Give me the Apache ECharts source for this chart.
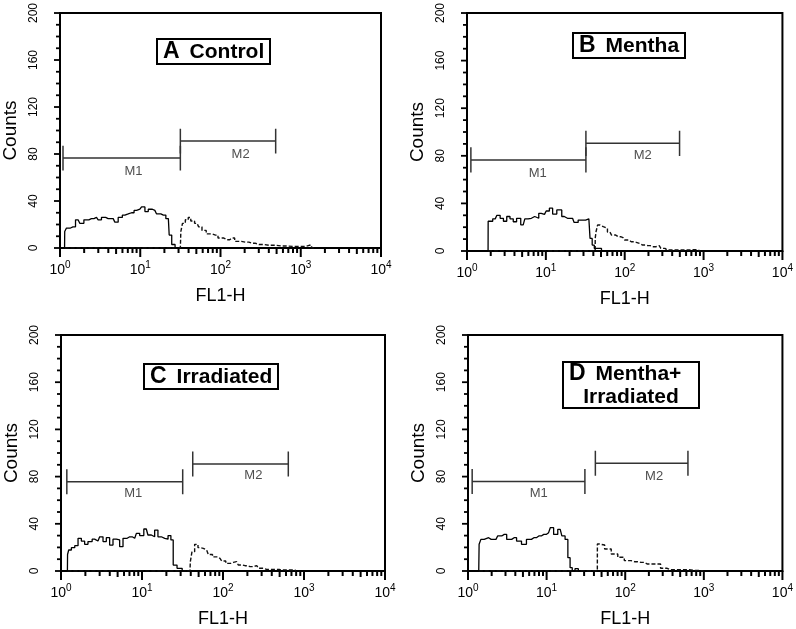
<!DOCTYPE html>
<html><head><meta charset="utf-8">
<script src="https://cdn.jsdelivr.net/npm/echarts@6/dist/echarts.min.js"></script>
<style>html,body{margin:0;padding:0;background:#fff}#c{width:796px;height:629px}</style>
</head><body><div id="c"></div>
<script>
// ---- data (FL1-H value, counts) ----
const panelNames = ['A', 'B', 'C', 'D'];
const panelTitles = ['Control', 'Mentha', 'Irradiated', 'Mentha+\nIrradiated'];
const majorTicks = [1, 10, 100, 1000, 10000];
const yTicks = [0, 40, 80, 120, 160, 200];

const A_M1 = [[1.14, 0], [1.15, 14], [1.26, 17], [1.45, 18], [1.68, 24], [1.85, 21], [2.13, 24], [2.46, 25], [2.85, 26], [3.13, 24], [3.45, 26], [3.98, 25], [4.6, 25], [5.06, 22], [5.57, 26], [6.43, 28], [7.08, 29], [7.79, 30], [9.0, 32], [9.9, 33], [10.9, 35], [12.0, 31], [13.2, 33], [15.2, 32], [16.8, 29], [19.4, 28], [22.4, 25], [23.5, 11], [25.9, 3], [28.5, 0]];
const A_M2 = [[1.14, 0], [31.6, 0], [32.5, 14], [34.7, 21], [38.3, 24], [41, 26], [44.3, 23], [51, 21], [56, 18], [61.7, 15], [71.4, 12], [86.6, 11], [100, 8.5], [121, 7], [140, 8.5], [161, 5.6], [205, 5], [249, 4], [301, 3], [402, 2.3], [590, 1.7], [787, 1.4], [1047, 1.4], [1270, 2.3], [1468, 0]];
const B_M1 = [[1.85, 0], [1.86, 25], [1.97, 25], [2.28, 27], [2.51, 30], [2.76, 27.5], [3.04, 25], [3.35, 29], [3.68, 27], [4.05, 24.6], [4.47, 27.5], [5.16, 22], [5.67, 27], [6.24, 27.5], [6.88, 29], [7.57, 27.5], [8.73, 31.7], [9.61, 30.8], [10.6, 33.6], [11.6, 36], [12.8, 31], [14.8, 34.5], [17.1, 29], [18.8, 27.5], [21.8, 27.5], [23.9, 24], [27.6, 26], [31.9, 26], [35.1, 27], [37.6, 10.6], [39.8, 5], [42.5, 2.2], [46, 2.2], [56, 0]];
const B_M2 = [[1.85, 0], [42.2, 0], [42.3, 10.6], [44.2, 16], [46.4, 21.8], [51, 20.4], [56.2, 19], [64.9, 16], [71.4, 13.4], [82.5, 12], [95.2, 11.2], [105, 9.2], [121, 7.8], [140, 7.3], [154, 6.4], [169, 5], [196, 4.5], [226, 3.6], [274, 4.5], [301, 2.2], [348, 0.8], [464, 0.8], [824, 1.2], [907, 0]];
const C_M1 = [[1.2, 0], [1.21, 14], [1.28, 17.8], [1.41, 19.8], [1.55, 21.5], [1.70, 27.7], [1.87, 25.4], [2.05, 22.6], [2.26, 24.9], [2.60, 27], [2.86, 25.4], [3.15, 29], [3.46, 24.9], [3.80, 28.2], [4.18, 22], [4.60, 27], [5.05, 26.3], [5.56, 20.6], [6.11, 27.7], [7.05, 29], [8.13, 27.7], [8.93, 31.9], [9.81, 30], [11.3, 35.6], [12.4, 30.5], [13.7, 29], [15.0, 34.7], [16.5, 29], [18.2, 27.7], [20.0, 27], [22.0, 30], [23.5, 26.3], [25.1, 5], [29.2, 2.3], [33.6, 0]];
const C_M2 = [[1.2, 0], [39.1, 0], [39.9, 7.9], [43, 16.4], [46.4, 22.6], [52, 19.8], [57.1, 19.2], [62.8, 17.8], [69.1, 14], [79.7, 12], [91.8, 10.7], [101, 8.5], [116, 6.5], [134, 7.3], [147, 7.9], [162, 5.1], [187, 4.5], [215, 3.7], [261, 4.5], [286, 2.3], [346, 1.4], [460, 1.4], [531, 0.8], [776, 0.8], [800, 0]];
const D_M1 = [[1.37, 0], [1.40, 22.6], [1.52, 26.8], [1.70, 28.2], [1.97, 26.8], [2.27, 26.8], [2.50, 29.7], [2.89, 31], [3.34, 26.8], [3.86, 28.2], [4.46, 25.4], [5.15, 22.6], [5.96, 26.8], [6.89, 28.2], [7.96, 29.7], [9.2, 31], [10.6, 32.5], [11.7, 36.7], [12.9, 31], [14.9, 35.3], [16.4, 29.7], [18.0, 26.8], [19.3, 11.3], [20.5, 2.8], [21.9, 0], [24.1, 2], [26.6, 0]];
const D_M2 = [[1.37, 0], [44.2, 0], [44.3, 22.9], [49.7, 22], [60.3, 18.6], [73.1, 14.4], [88.5, 11.6], [107, 8.8], [131, 7.9], [158, 7.3], [192, 5.9], [256, 5.9], [310, 2.3], [376, 1.1], [553, 1.1], [740, 0.5], [988, 0]];

// marker gates: [start, end, level]
const gateM1 = [[1.09, 31.6, 76.5], [1.12, 32.2, 76.5], [1.18, 31.8, 75.7], [1.13, 30.7, 75.8]];
const gateM2 = [[31.6, 487, 91], [32.2, 496, 90.5], [42.3, 640, 90.7], [41.7, 628, 91.3]];
const labelM1 = [[8.25, 65], [7.87, 65.3], [7.8, 65.8], [7.95, 65.6]];
const labelM2 = [[178, 80], [169, 80.7], [237, 81.4], [233, 80.5]];

const histM1 = [A_M1, B_M1, C_M1, D_M1];
const histM2 = [A_M2, B_M2, C_M2, D_M2];

// ---- layout ----
const grids = [
  { left: 60, top: 12, width: 321, height: 236 },
  { left: 467, top: 13, width: 320, height: 238 },
  { left: 61, top: 335, width: 324, height: 236 },
  { left: 468, top: 335, width: 319, height: 237 }
];
const titlePos = [[157, 38], [573, 32], [144, 363], [563, 361]];

// x tick positions on the log scale: [value, 0, tick length]
const xTickMarks = [];
majorTicks.forEach(v => xTickMarks.push([v, 0, 9]));
for (let k = 0; k < 4; k++) for (let m = 2; m <= 9; m++) xTickMarks.push([m * Math.pow(10, k), 0, m === 5 ? 6 : 5]);
// y tick positions: [1, value, tick length]
const yTickMarks = [];
for (let v = 0; v <= 200; v += 10) yTickMarks.push([1, v, v % 40 === 0 ? 6 : 4]);

const font = '"Liberation Sans", Arial, sans-serif';

const option = {
  animation: false,
  backgroundColor: '#fff',
  textStyle: { fontFamily: font },
  grid: [], xAxis: [], yAxis: [], series: [], title: []
};

grids.forEach((g, i) => {
  option.grid.push(Object.assign({ show: true, borderColor: '#000', borderWidth: 2, backgroundColor: 'transparent' }, g));
  option.xAxis.push({
    type: 'log', logBase: 10, min: 1, max: 10000, gridIndex: i, position: 'bottom',
    axisLine: { onZero: false, lineStyle: { color: '#000', width: 2 } },
    axisTick: { show: false },
    axisLabel: {
      margin: 12, color: '#000',
      formatter: v => '{b|10}{s|' + Math.round(Math.log10(v)) + '}',
      rich: { b: { fontSize: 14, fontFamily: font, color: '#000' }, s: { fontSize: 10, fontFamily: font, color: '#000', padding: [0, 0, 10, 0] } }
    },
    splitLine: { show: false },
    name: 'FL1-H', nameLocation: 'middle', nameGap: 39,
    nameTextStyle: { fontSize: 18, color: '#000', fontFamily: font }
  });
  option.yAxis.push({
    type: 'value', min: 0, max: 200, interval: 40, gridIndex: i,
    axisLine: { show: true, lineStyle: { color: '#000', width: 2 } },
    axisTick: { show: false },
    splitLine: { show: false }, minorSplitLine: { show: false },
    axisLabel: { rotate: 90, fontSize: 12, color: '#000', margin: 20, fontFamily: '"Liberation Sans Narrow", "Liberation Sans", sans-serif' },
    name: 'Counts', nameLocation: 'middle', nameGap: 40, nameRotate: 90,
    nameTextStyle: { fontSize: 19, color: '#000', fontFamily: font }
  });
  // x ticks drawn through the log scale
  option.series.push({
    type: 'custom', xAxisIndex: i, yAxisIndex: i, clip: false, silent: true, z: 10,
    data: xTickMarks,
    renderItem: (params, api) => {
      const p = api.coord([api.value(0), api.value(1)]);
      return { type: 'rect', shape: { x: p[0] - 1, y: p[1], width: 2, height: api.value(2) }, style: { fill: '#000' } };
    }
  });
  // y ticks drawn through the value scale
  option.series.push({
    type: 'custom', xAxisIndex: i, yAxisIndex: i, clip: false, silent: true, z: 10,
    data: yTickMarks,
    renderItem: (params, api) => {
      const p = api.coord([api.value(0), api.value(1)]);
      const len = api.value(2);
      return { type: 'rect', shape: { x: p[0] - len, y: p[1] - 0.9, width: len, height: 1.8 }, style: { fill: '#000' } };
    }
  });
  option.series.push({
    type: 'line', xAxisIndex: i, yAxisIndex: i, data: histM1[i], step: 'middle',
    symbol: 'none', lineStyle: { color: '#000', width: 1.3 }, z: 3
  });
  option.series.push({
    type: 'line', xAxisIndex: i, yAxisIndex: i, data: histM2[i], step: 'middle',
    symbol: 'none', lineStyle: { color: '#111', width: 1.4, type: [4, 2] }, z: 2
  });
  [gateM1[i], gateM2[i]].forEach(gt => {
    const [a, b, lv] = gt, h = 10.6;
    option.series.push({
      type: 'line', xAxisIndex: i, yAxisIndex: i, symbol: 'none',
      data: [[a, lv + h], [a, lv - h], [a, lv], [b, lv], [b, lv + h], [b, lv - h]],
      lineStyle: { color: '#333', width: 1.5 }
    });
  });
  option.series.push({
    type: 'scatter', xAxisIndex: i, yAxisIndex: i, symbolSize: 0,
    data: [labelM1[i].concat(['M1']), labelM2[i].concat(['M2'])],
    label: { show: true, position: 'inside', formatter: p => p.value[2], fontSize: 13, color: '#222', fontFamily: font }
  });
  const isD = i === 3;
  option.title.push({
    left: titlePos[i][0], top: titlePos[i][1],
    text: isD ? '{l|D}  {t|Mentha+}\n{c|Irradiated}' : '{l|' + panelNames[i] + '}  {t|' + panelTitles[i] + '}',
    borderColor: '#000', borderWidth: 2, padding: isD ? [1, 6, 1, 6] : [2, 6, 1, 6],
    backgroundColor: '#fff',
    textStyle: {
      rich: {
        l: { fontSize: 23, fontWeight: 'bold', color: '#000', fontFamily: font, lineHeight: 24 },
        t: { fontSize: 21, fontWeight: 'bold', color: '#000', fontFamily: font, lineHeight: 24 },
        c: { fontSize: 21, fontWeight: 'bold', color: '#000', fontFamily: font, lineHeight: 22, width: 124, align: 'center' }
      }
    }
  });
});

const chart = echarts.init(document.getElementById('c'), null, { renderer: 'canvas' });
chart.setOption(option);
</script></body></html>
